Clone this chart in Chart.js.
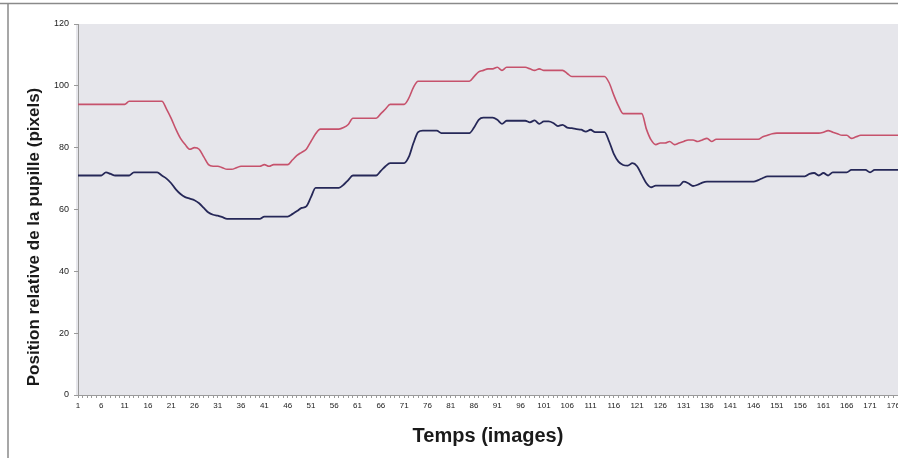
<!DOCTYPE html>
<html>
<head>
<meta charset="utf-8">
<script src="https://cdn.jsdelivr.net/npm/chart.js@4/dist/chart.umd.min.js"></script>
<style>
  html, body { margin: 0; padding: 0; background: #ffffff; overflow: hidden; }
  #wrap { width: 898px; height: 458px; position: relative; overflow: hidden; }
  #c { position: absolute; left: 0; top: 0; }
</style>
</head>
<body>
<div id="wrap"><canvas id="c" width="901" height="458"></canvas></div>
<script>
// Frame numbers (x axis categories)
const frames = Array.from({ length: 177 }, (_, i) => i + 1);

// Pupil position, upper trace (pixels)
const upperTrace = [
  94, 94, 94, 94, 94, 94, 94, 94, 94, 94,
  94, 95, 95, 95, 95, 95, 95, 95, 95, 92.5,
  89.5, 86, 83, 81, 79.5, 80, 79.5, 77, 74.5, 74,
  74, 73.5, 73, 73, 73.5, 74, 74, 74, 74, 74,
  74.5, 74, 74.5, 74.5, 74.5, 74.5, 76, 77.5, 78.5, 79.5,
  82, 84.5, 86, 86, 86, 86, 86, 86.5, 87.5, 89.5,
  89.5, 89.5, 89.5, 89.5, 89.5, 91, 92.5, 94, 94, 94,
  94, 96, 99.5, 101.5, 101.5, 101.5, 101.5, 101.5, 101.5, 101.5,
  101.5, 101.5, 101.5, 101.5, 101.5, 103, 104.5, 105, 105.5, 105.5,
  106, 105, 106, 106, 106, 106, 106, 105.5, 105, 105.5,
  105, 105, 105, 105, 105, 104, 103, 103, 103, 103,
  103, 103, 103, 103, 101, 97, 93.5, 91, 91, 91,
  91, 91, 86, 82.5, 81, 81.5, 81.5, 82, 81, 81.5,
  82, 82.5, 82.5, 82, 82.5, 83, 82, 82.7, 82.7, 82.7,
  82.7, 82.7, 82.7, 82.7, 82.7, 82.7, 82.7, 83.5, 84, 84.5,
  84.7, 84.7, 84.7, 84.7, 84.7, 84.7, 84.7, 84.7, 84.7, 84.7,
  85, 85.5, 85, 84.5, 84, 84, 83, 83.5, 84, 84,
  84, 84, 84, 84, 84, 84, 84
];

// Pupil position, lower trace (pixels)
const lowerTrace = [
  71, 71, 71, 71, 71, 71, 72, 71.5, 71, 71,
  71, 71, 72, 72, 72, 72, 72, 72, 71, 70,
  68.5, 66.5, 65, 64, 63.5, 63, 62, 60.5, 59, 58.3,
  58, 57.5, 57, 57, 57, 57, 57, 57, 57, 57,
  57.7, 57.7, 57.7, 57.7, 57.7, 57.7, 58.5, 59.5, 60.5, 61,
  64, 67, 67, 67, 67, 67, 67, 68, 69.5, 71,
  71, 71, 71, 71, 71, 72.5, 74, 75, 75, 75,
  75, 77, 81.5, 85, 85.5, 85.5, 85.5, 85.5, 84.7, 84.7,
  84.7, 84.7, 84.7, 84.7, 84.7, 86.5, 89, 89.7, 89.7, 89.7,
  89, 87.7, 88.7, 88.7, 88.7, 88.7, 88.7, 88.2, 88.8, 87.7,
  88.5, 88.5, 88, 87, 87.4, 86.5, 86.3, 86, 85.8, 85.2,
  85.8, 85, 85, 85, 82, 78, 75.5, 74.4, 74.2, 75,
  74, 71.2, 68.5, 67.2, 67.7, 67.7, 67.7, 67.7, 67.7, 67.7,
  69, 68.5, 67.6, 68, 68.7, 69, 69, 69, 69, 69,
  69, 69, 69, 69, 69, 69, 69.5, 70.2, 70.7, 70.7,
  70.7, 70.7, 70.7, 70.7, 70.7, 70.7, 70.7, 71.5, 71.8, 71,
  71.8, 71, 72, 72, 72, 72, 72.8, 72.8, 72.8, 72.8,
  72, 72.8, 72.8, 72.8, 72.8, 72.8, 72.8
];

// Y axis ticks
const yTicks = [0, 20, 40, 60, 80, 100, 120];

const yTitle = 'Position relative de la pupille (pixels)';
const xTitle = 'Temps (images)';

// Page frame, plot background and rotated y title
const framePlugin = {
  id: 'framePlugin',
  beforeDraw(chart) {
    const { ctx, chartArea: a } = chart;
    ctx.save();
    ctx.fillStyle = '#ffffff';
    ctx.fillRect(0, 0, chart.width, chart.height);
    ctx.fillStyle = '#e6e6eb';
    ctx.fillRect(a.left - 2, a.top, a.right - a.left + 6, a.bottom - a.top);
    ctx.strokeStyle = '#8a8a8a';
    ctx.lineWidth = 1.5;
    ctx.beginPath();
    ctx.moveTo(0, 3.5);
    ctx.lineTo(chart.width, 3.5);
    ctx.moveTo(8, 3);
    ctx.lineTo(8, chart.height);
    ctx.stroke();
    ctx.restore();
  },
  afterDraw(chart) {
    const { ctx } = chart;
    ctx.save();
    ctx.translate(34, 237);
    ctx.rotate(-Math.PI / 2);
    ctx.font = 'bold 17px "Liberation Sans", Arial, sans-serif';
    ctx.fillStyle = '#1a1a1a';
    ctx.textAlign = 'center';
    ctx.textBaseline = 'middle';
    ctx.fillText(yTitle, 0, 0);
    ctx.restore();
  }
};

new Chart(document.getElementById('c'), {
  type: 'line',
  data: {
    labels: frames,
    datasets: [
      {
        data: upperTrace,
        borderColor: 'rgb(198, 82, 108)',
        borderWidth: 1.6,
        pointRadius: 0,
        cubicInterpolationMode: 'monotone',
        fill: false
      },
      {
        data: lowerTrace,
        borderColor: 'rgb(38, 40, 88)',
        borderWidth: 1.8,
        pointRadius: 0,
        cubicInterpolationMode: 'monotone',
        fill: false
      }
    ]
  },
  options: {
    responsive: false,
    animation: false,
    layout: { padding: { left: 0, right: 0, top: 24, bottom: 0 } },
    plugins: {
      legend: { display: false },
      tooltip: { enabled: false }
    },
    scales: {
      x: {
        type: 'category',
        offset: false,
        afterFit(scale) { scale.height = 63; },
        border: { display: true, color: '#9a9a9a', width: 1 },
        grid: { drawOnChartArea: false, drawTicks: true, tickLength: 3, color: '#9a9a9a' },
        ticks: {
          autoSkip: false,
          maxRotation: 0,
          minRotation: 0,
          padding: 3,
          color: '#222',
          font: { family: '"Liberation Sans", Arial, sans-serif', size: 8 },
          callback(value, index) {
            return index % 5 === 0 ? String(frames[index]) : '';
          }
        },
        title: {
          display: true,
          text: xTitle,
          color: '#1a1a1a',
          font: { family: '"Liberation Sans", Arial, sans-serif', size: 20, weight: 'bold' },
          padding: { top: 0, bottom: 10 }
        }
      },
      y: {
        min: 0,
        max: 120,
        afterFit(scale) { scale.width = 78; },
        afterBuildTicks(scale) { scale.ticks = yTicks.map(v => ({ value: v })); },
        border: { display: true, color: '#9a9a9a', width: 1 },
        grid: { drawOnChartArea: false, drawTicks: true, tickLength: 4, color: '#9a9a9a' },
        ticks: {
          padding: 5,
          color: '#222',
          font: { family: '"Liberation Sans", Arial, sans-serif', size: 9 }
        }
      }
    }
  },
  plugins: [framePlugin]
});
</script>
</body>
</html>
